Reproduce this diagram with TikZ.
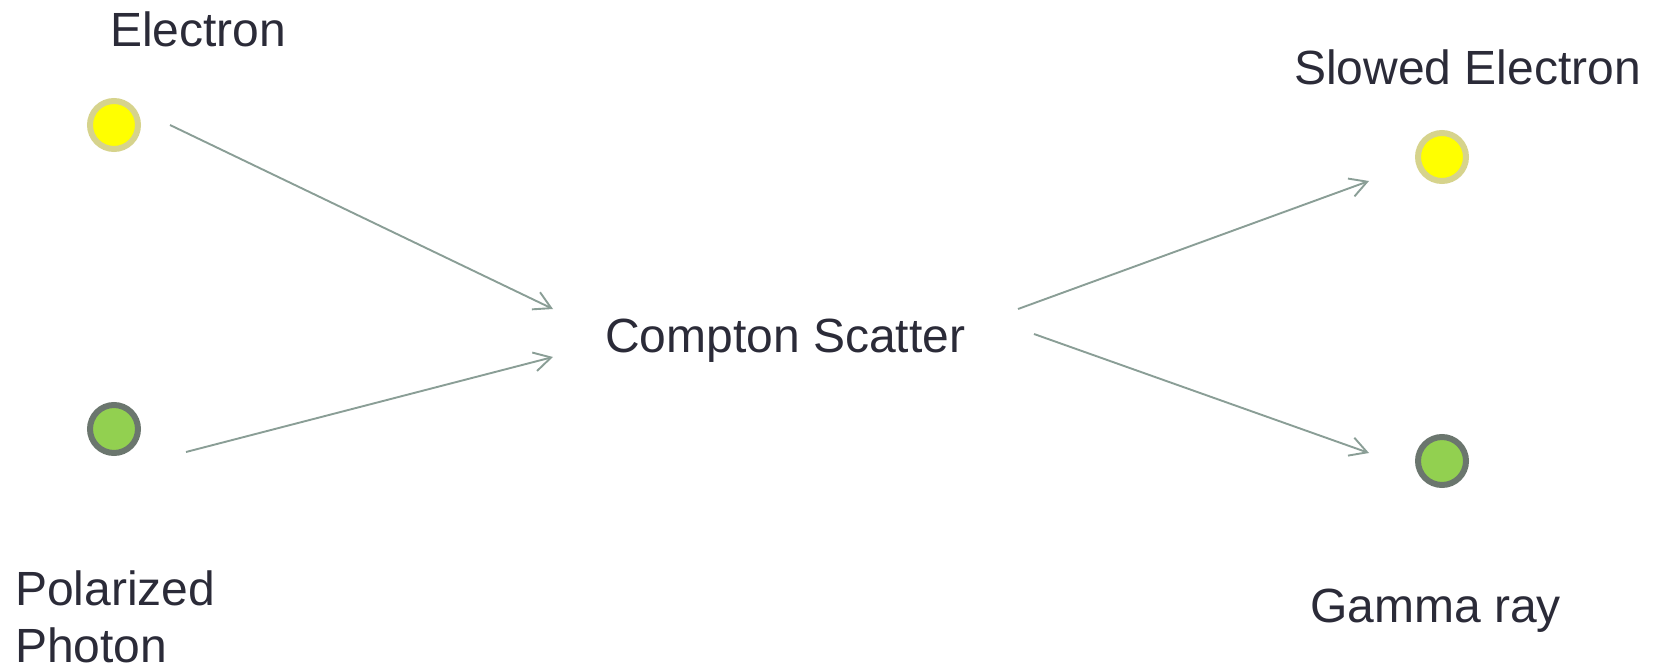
\documentclass[tikz,border=0pt]{standalone}
\usepackage{fontspec}
\setmainfont{Liberation Sans}
\usetikzlibrary{arrows.meta}
\definecolor{txt}{HTML}{2B2B38}
\definecolor{wire}{HTML}{8A9E96}
\definecolor{eFill}{HTML}{FFFF00}
\definecolor{eRing}{HTML}{D6D38C}
\definecolor{pFill}{HTML}{92D050}
\definecolor{pRing}{HTML}{6B766E}
\tikzset{
  label/.style={anchor=base west, inner sep=0pt, text=txt, font=\fontsize{48}{57}\selectfont},
  electron/.style={circle, minimum size=48pt, inner sep=0pt, fill=eFill, draw=eRing, line width=6pt},
  photon/.style={circle, minimum size=48pt, inner sep=0pt, fill=pFill, draw=pRing, line width=6pt},
  flow/.style={draw=wire, line width=1.9pt, -{Straight Barb[length=17pt,width=19pt]}}
}
\begin{document}
\begin{tikzpicture}[x=1pt,y=-1pt]
  \useasboundingbox (0,0) rectangle (1657,666);
  % particles
  \node[electron] (ein) at (114,125) {};
  \node[photon] (pin) at (114,429) {};
  \node[electron] (eout) at (1442,157) {};
  \node[photon] (gout) at (1442,461) {};
  % labels (a two-line label sits on the baseline of its last line)
  \node[label] (lein) at (110,47) {Electron};
  \node[label, align=left] (lpin) at (15,662) {Polarized\\Photon};
  \node[label] (lcs) at (605,352) {Compton Scatter};
  \node[label] (leout) at (1294,85) {Slowed Electron};
  \node[label] (lgout) at (1310,622) {Gamma ray};
  % arrow end points
  \coordinate (a1s) at (170,125);
  \coordinate (a1e) at (553,309);
  \coordinate (a2s) at (186,452);
  \coordinate (a2e) at (553,357);
  \coordinate (a3s) at (1018,309);
  \coordinate (a3e) at (1369,181);
  \coordinate (a4s) at (1034,334);
  \coordinate (a4e) at (1369,453);
  % scattering arrows
  \draw[flow] (a1s) -- (a1e);
  \draw[flow] (a2s) -- (a2e);
  \draw[flow] (a3s) -- (a3e);
  \draw[flow] (a4s) -- (a4e);
\end{tikzpicture}
\end{document}
